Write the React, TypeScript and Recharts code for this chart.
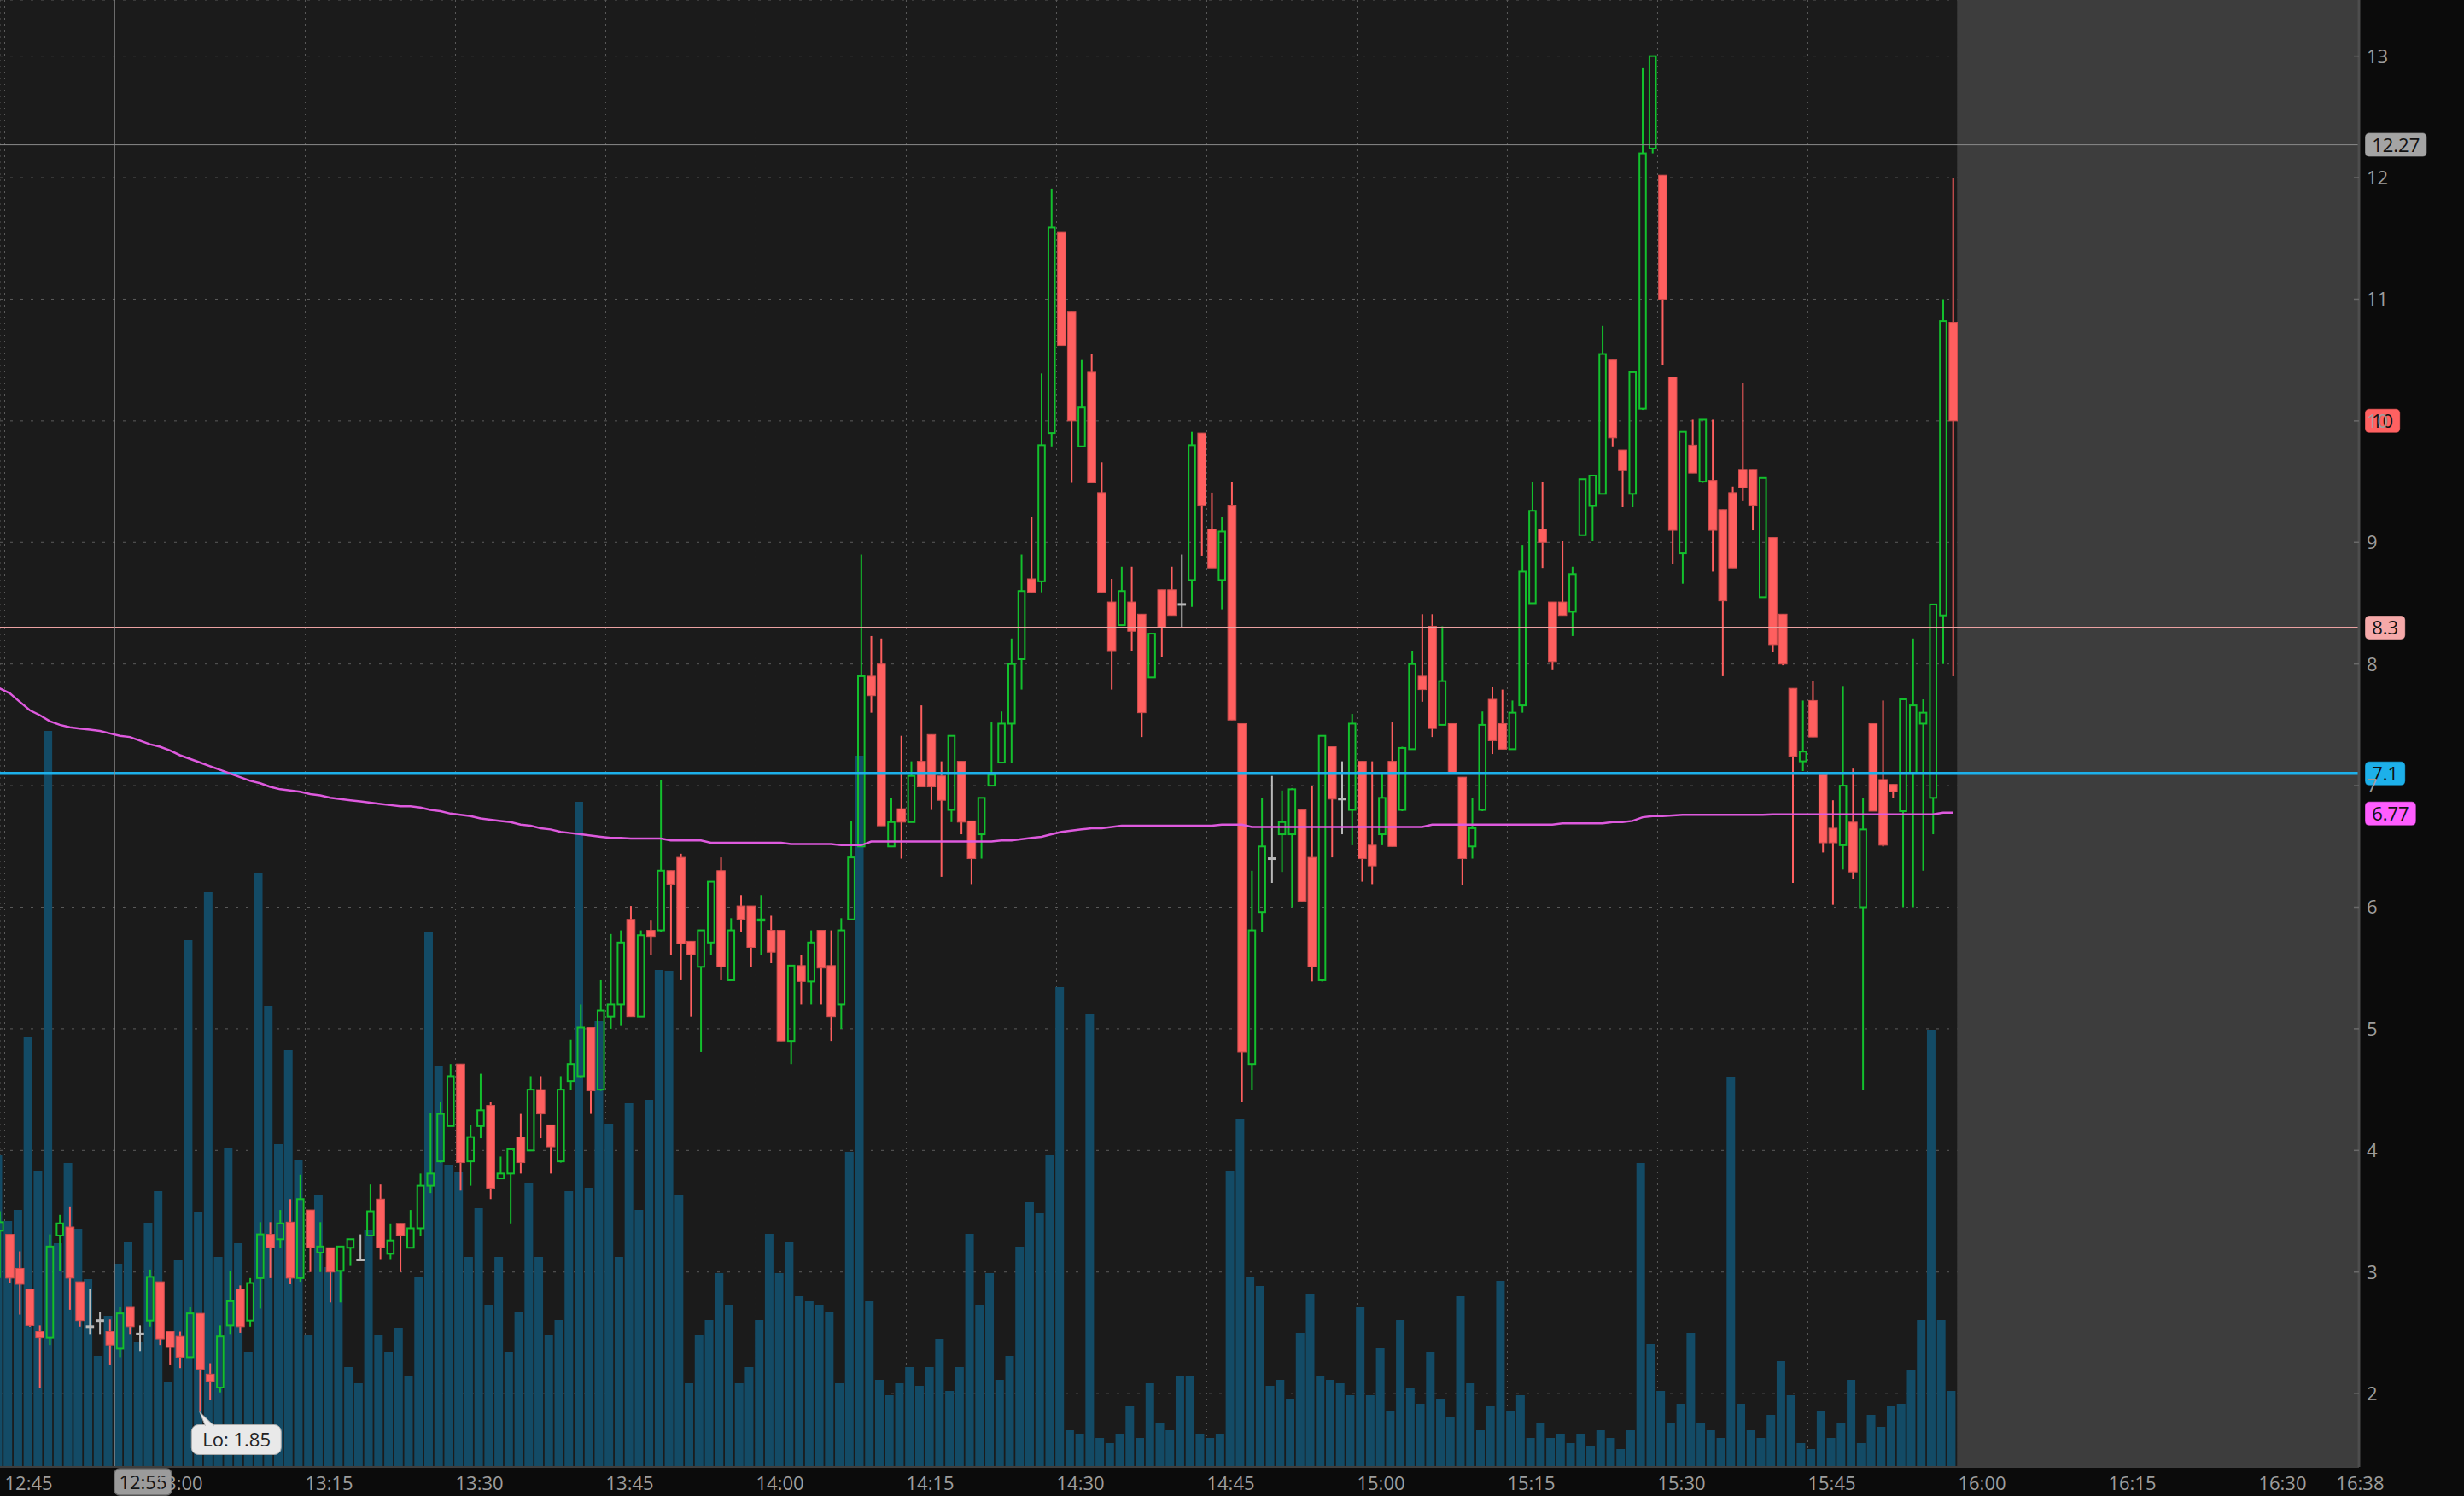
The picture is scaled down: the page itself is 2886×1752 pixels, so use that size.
import React from 'react';
import {
  ComposedChart,
  Bar,
  Line,
  XAxis,
  YAxis,
  CartesianGrid,
  ReferenceLine,
  ReferenceArea,
  ReferenceDot,
} from 'recharts';

const W = 2886;
const H = 1752;
const PLOT_W = 2763;
const PLOT_H = 1718;
const FONT = '"Open Sans", "DejaVu Sans", sans-serif';

// one-minute bars, first one is 12:44
const OPEN = [
  3.34, 3.31, 3.03, 2.86, 2.51, 2.46, 3.3, 3.37, 2.92, 2.55,
  2.6, 2.51, 2.37, 2.71, 2.49, 2.6, 2.92, 2.51, 2.47, 2.3,
  2.66, 2.16, 2.05, 2.56, 2.86, 2.6, 2.95, 3.31, 3.27, 3.41,
  2.95, 3.51, 3.16, 3.2, 3.01, 3.2, 3.1, 3.3, 3.6, 3.15,
  3.4, 3.2, 3.36, 3.71, 3.91, 4.2, 4.71, 3.91, 4.2, 4.37,
  3.77, 3.81, 4.11, 4.0, 4.5, 4.21, 3.91, 4.57, 4.61, 5.01,
  4.5, 5.1, 5.2, 5.9, 5.1, 5.81, 5.81, 6.3, 6.41, 5.72,
  5.51, 5.71, 6.3, 5.4, 6.01, 6.01, 5.89, 5.81, 5.81, 4.9,
  5.52, 5.39, 5.81, 5.52, 5.2, 5.9, 6.5, 7.9, 8.0, 6.5,
  6.81, 6.7, 7.2, 7.42, 7.08, 6.8, 7.2, 6.71, 6.6, 7.0,
  7.19, 7.51, 8.04, 8.7, 8.68, 9.9, 11.55, 10.9, 9.79, 10.4,
  9.41, 8.51, 8.32, 8.51, 8.41, 7.89, 8.61, 8.61, 8.49, 8.69,
  9.9, 9.11, 8.69, 9.3, 7.51, 4.71, 5.96, 6.4, 6.6, 6.6,
  6.8, 6.41, 5.4, 7.32, 6.89, 6.8, 7.2, 6.51, 6.6, 7.2,
  6.8, 7.3, 7.9, 8.31, 7.5, 7.51, 7.07, 6.5, 6.8, 7.71,
  7.51, 7.3, 7.66, 8.5, 9.11, 8.51, 8.51, 8.43, 9.06, 9.3,
  9.4, 10.5, 9.76, 9.4, 10.1, 12.24, 12.02, 10.36, 8.91, 9.8,
  9.5, 9.51, 9.27, 9.41, 9.6, 9.6, 8.55, 9.04, 8.41, 7.8,
  7.2, 7.7, 7.09, 6.65, 6.51, 6.7, 6.0, 7.51, 7.05, 7.01,
  6.79, 7.1, 7.51, 6.9, 8.4, 10.81,
];

const HIGH = [
  3.5, 3.31, 3.17, 2.86, 2.56, 3.31, 3.47, 3.54, 2.92, 2.86,
  2.67, 2.61, 2.71, 2.71, 2.56, 3.02, 2.92, 2.51, 2.51, 2.71,
  2.66, 2.25, 2.56, 3.01, 2.89, 2.95, 3.41, 3.41, 3.51, 3.6,
  3.8, 3.51, 3.41, 3.2, 3.21, 3.27, 3.31, 3.72, 3.72, 3.4,
  3.4, 3.51, 3.81, 4.31, 4.4, 4.71, 4.71, 4.21, 4.63, 4.4,
  3.95, 4.01, 4.3, 4.61, 4.61, 4.21, 4.61, 4.91, 5.2, 5.01,
  5.4, 5.78, 5.81, 6.01, 5.81, 5.89, 7.05, 6.3, 6.44, 5.72,
  5.81, 6.21, 6.41, 5.91, 6.1, 6.01, 6.1, 5.93, 5.81, 5.52,
  5.61, 5.81, 5.81, 5.81, 5.91, 6.71, 8.9, 8.23, 8.21, 6.9,
  7.41, 7.2, 7.66, 7.42, 7.2, 7.41, 7.2, 6.71, 6.9, 7.52,
  7.61, 8.21, 8.9, 9.21, 10.39, 11.91, 11.55, 10.9, 10.5, 10.55,
  9.66, 8.7, 8.8, 8.8, 8.41, 8.25, 8.61, 8.8, 8.9, 9.91,
  9.9, 9.41, 9.21, 9.5, 7.51, 6.3, 6.9, 7.08, 6.96, 6.98,
  6.8, 7.0, 7.41, 7.32, 7.2, 7.59, 7.2, 7.2, 7.1, 7.52,
  7.32, 8.11, 8.41, 8.41, 8.31, 7.51, 7.07, 6.9, 7.61, 7.81,
  7.79, 7.7, 8.98, 9.5, 9.5, 8.51, 9.01, 8.8, 9.52, 9.55,
  10.78, 10.5, 9.76, 10.4, 12.9, 13.0, 12.02, 10.36, 9.91, 10.01,
  10.01, 10.01, 9.27, 9.46, 10.31, 9.6, 9.53, 9.04, 8.41, 7.8,
  7.7, 7.86, 7.09, 6.88, 7.82, 7.14, 6.9, 7.51, 7.7, 7.01,
  7.71, 8.21, 7.71, 8.49, 11.0, 12.0,
];

const LOW = [
  2.95, 2.91, 2.65, 2.55, 2.05, 2.4, 3.01, 2.69, 2.55, 2.49,
  2.49, 2.24, 2.3, 2.49, 2.35, 2.55, 2.4, 2.24, 2.21, 2.3,
  1.85, 1.95, 2.01, 2.49, 2.5, 2.55, 2.7, 2.95, 3.2, 2.9,
  2.92, 3.0, 3.0, 2.75, 2.75, 3.05, 3.1, 3.3, 3.1, 3.1,
  3.0, 3.2, 3.3, 3.65, 3.9, 4.2, 3.67, 3.71, 4.1, 3.6,
  3.77, 3.4, 3.81, 4.0, 4.1, 3.81, 3.9, 4.5, 4.6, 4.3,
  4.49, 5.0, 5.03, 5.1, 5.1, 5.61, 5.8, 5.61, 5.4, 5.1,
  4.81, 5.61, 5.4, 5.4, 5.8, 5.51, 5.61, 5.54, 4.9, 4.71,
  5.2, 5.2, 5.2, 4.9, 5.0, 5.9, 6.5, 7.6, 6.67, 6.5,
  6.4, 6.7, 6.99, 6.8, 6.25, 6.7, 6.6, 6.19, 6.4, 7.0,
  7.19, 7.19, 7.79, 8.59, 8.59, 9.79, 10.62, 9.49, 9.79, 9.49,
  8.59, 7.79, 8.32, 8.11, 7.4, 7.89, 8.06, 8.4, 8.3, 8.47,
  8.89, 8.79, 8.45, 7.54, 4.4, 4.5, 5.8, 6.2, 6.29, 6.0,
  6.05, 5.39, 5.39, 6.41, 6.6, 6.51, 6.21, 6.19, 6.51, 6.5,
  6.79, 7.3, 7.69, 7.4, 7.5, 7.1, 6.18, 6.4, 6.79, 7.26,
  7.3, 7.3, 7.6, 8.5, 8.79, 7.95, 8.4, 8.23, 9.06, 9.01,
  9.4, 9.79, 9.29, 9.29, 10.09, 12.2, 10.46, 8.82, 8.66, 9.57,
  9.49, 8.76, 7.9, 8.79, 9.34, 9.1, 8.55, 8.1, 7.99, 6.2,
  7.12, 7.4, 6.45, 6.02, 6.31, 6.23, 4.5, 6.79, 6.5, 6.9,
  6.0, 6.0, 6.3, 6.6, 8.0, 7.9,
];

const CLOSE = [
  3.41, 2.95, 2.9, 2.56, 2.46, 3.21, 3.4, 2.95, 2.6, 2.55,
  2.6, 2.4, 2.66, 2.55, 2.49, 2.96, 2.45, 2.38, 2.3, 2.66,
  2.2, 2.1, 2.47, 2.76, 2.55, 2.91, 3.31, 3.2, 3.4, 2.95,
  3.6, 3.2, 3.21, 3.0, 3.21, 3.27, 3.1, 3.5, 3.2, 3.26,
  3.3, 3.36, 3.71, 3.81, 4.3, 4.61, 3.9, 4.11, 4.33, 3.69,
  3.81, 4.01, 3.9, 4.5, 4.3, 4.03, 4.5, 4.71, 5.01, 4.49,
  5.15, 5.2, 5.71, 5.1, 5.77, 5.76, 6.3, 6.19, 5.7, 5.61,
  5.81, 6.21, 5.51, 5.81, 5.9, 5.67, 5.9, 5.63, 4.9, 5.52,
  5.39, 5.71, 5.5, 5.1, 5.81, 6.41, 7.9, 7.74, 6.67, 6.7,
  6.7, 7.08, 6.99, 6.99, 6.88, 7.41, 6.7, 6.4, 6.9, 7.09,
  7.51, 8.0, 8.6, 8.59, 9.8, 11.59, 10.62, 10.0, 10.11, 9.49,
  8.59, 8.11, 8.6, 8.27, 7.6, 8.25, 8.3, 8.4, 8.49, 9.8,
  9.3, 8.79, 9.09, 7.54, 4.81, 5.81, 6.5, 6.4, 6.7, 6.97,
  6.05, 5.51, 7.41, 6.89, 6.89, 7.51, 6.4, 6.34, 6.9, 6.5,
  7.31, 8.0, 7.79, 7.47, 7.86, 7.1, 6.4, 6.65, 7.5, 7.37,
  7.3, 7.6, 8.76, 9.26, 9.0, 8.02, 8.4, 8.74, 9.52, 9.55,
  10.55, 9.86, 9.59, 10.4, 12.2, 13.0, 11.0, 9.1, 9.91, 9.57,
  10.01, 9.1, 8.52, 8.79, 9.45, 9.3, 9.53, 8.16, 8.0, 7.24,
  7.28, 7.4, 6.53, 6.53, 7.0, 6.29, 6.64, 6.79, 6.51, 6.95,
  7.71, 7.66, 7.6, 8.49, 10.82, 10.0,
];

// volume, thousands of shares
const VOLUME = [
  36.5, 28.8, 30.1, 50.3, 34.7, 86.2, 26.2, 35.6, 27.9, 22.0,
  13.0, 17.7, 23.8, 26.4, 14.6, 28.6, 32.3, 10.0, 24.2, 61.7,
  29.9, 67.3, 24.6, 37.3, 26.2, 13.5, 69.6, 54.0, 37.8, 48.8,
  36.0, 15.4, 31.9, 23.4, 22.9, 11.7, 9.8, 27.7, 15.4, 13.5,
  16.3, 10.7, 22.3, 62.6, 47.0, 35.4, 34.5, 24.6, 30.3, 19.0,
  24.6, 13.5, 18.1, 33.2, 24.6, 15.4, 17.2, 32.3, 77.9, 32.7,
  52.2, 40.2, 24.6, 42.6, 30.1, 43.0, 58.2, 58.1, 31.9, 9.8,
  15.4, 17.2, 22.7, 19.0, 9.8, 11.7, 17.2, 27.3, 22.7, 26.4,
  20.0, 19.4, 19.0, 18.1, 9.8, 36.9, 83.3, 19.4, 10.2, 8.4,
  9.8, 11.7, 9.5, 11.7, 15.0, 8.9, 11.7, 27.3, 19.0, 22.7,
  10.2, 13.0, 25.8, 31.0, 29.7, 36.5, 56.2, 4.3, 3.9, 53.1,
  3.4, 2.8, 3.9, 7.1, 3.4, 9.8, 5.2, 4.3, 10.7, 10.7,
  3.9, 3.4, 3.9, 34.7, 40.7, 22.2, 21.2, 9.5, 10.2, 8.0,
  15.7, 20.3, 10.7, 10.2, 9.8, 8.4, 18.7, 8.4, 13.9, 6.5,
  17.2, 9.3, 7.4, 13.5, 8.0, 5.8, 20.0, 9.8, 4.3, 7.1,
  21.8, 6.5, 8.4, 3.4, 5.2, 3.4, 3.9, 2.8, 3.9, 2.5,
  4.3, 3.4, 2.1, 4.3, 35.6, 14.4, 8.9, 5.2, 7.4, 15.7,
  5.2, 4.3, 3.4, 45.7, 7.4, 4.3, 3.4, 6.1, 12.4, 8.4,
  2.8, 2.1, 6.5, 3.4, 5.2, 10.2, 2.8, 6.1, 4.7, 7.1,
  7.4, 11.3, 17.2, 51.2, 17.2, 8.9,
];

const VWAP = [
  7.8, 7.76, 7.69, 7.62, 7.58, 7.53, 7.5, 7.48, 7.47, 7.46,
  7.45, 7.43, 7.41, 7.4, 7.37, 7.34, 7.32, 7.29, 7.25, 7.22,
  7.19, 7.16, 7.13, 7.1, 7.07, 7.04, 7.02, 6.99, 6.97, 6.96,
  6.95, 6.93, 6.92, 6.9, 6.89, 6.88, 6.87, 6.86, 6.85, 6.84,
  6.83, 6.83, 6.82, 6.8, 6.79, 6.77, 6.76, 6.75, 6.73, 6.72,
  6.71, 6.7, 6.68, 6.67, 6.65, 6.64, 6.62, 6.61, 6.6, 6.59,
  6.58, 6.57, 6.57, 6.565, 6.565, 6.565, 6.565, 6.55, 6.55, 6.55,
  6.55, 6.53, 6.53, 6.53, 6.53, 6.53, 6.53, 6.53, 6.53, 6.52,
  6.52, 6.52, 6.52, 6.52, 6.51, 6.51, 6.51, 6.54, 6.54, 6.54,
  6.54, 6.54, 6.54, 6.54, 6.54, 6.54, 6.54, 6.54, 6.54, 6.54,
  6.55, 6.55, 6.56, 6.57, 6.58, 6.6, 6.62, 6.63, 6.64, 6.65,
  6.65, 6.66, 6.67, 6.67, 6.67, 6.67, 6.67, 6.67, 6.67, 6.67,
  6.67, 6.67, 6.68, 6.68, 6.68, 6.66, 6.66, 6.66, 6.66, 6.66,
  6.66, 6.66, 6.66, 6.66, 6.66, 6.66, 6.66, 6.66, 6.66, 6.66,
  6.66, 6.66, 6.66, 6.68, 6.68, 6.68, 6.68, 6.68, 6.68, 6.68,
  6.68, 6.68, 6.68, 6.68, 6.68, 6.68, 6.69, 6.69, 6.69, 6.69,
  6.69, 6.7, 6.7, 6.71, 6.74, 6.75, 6.75, 6.755, 6.76, 6.76,
  6.76, 6.76, 6.76, 6.76, 6.76, 6.76, 6.76, 6.763, 6.763, 6.763,
  6.763, 6.763, 6.763, 6.763, 6.763, 6.763, 6.763, 6.763, 6.763, 6.763,
  6.763, 6.763, 6.763, 6.763, 6.778, 6.778,
];

// minutes after 12:45
const X_TICKS = [0, 15, 30, 45, 60, 75, 90, 105, 120, 135, 150, 165, 180, 195, 210, 225, 232.75];
const PRICE_TICKS = [2, 3, 4, 5, 6, 7, 8, 9, 10, 11, 12, 13];
const X_DOMAIN: [number, number] = [-0.469, 235.02];
const PRICE_DOMAIN: [number, number] = [1.397, 13.461];
const VOL_DOMAIN: [number, number] = [0, 171.8];
const SESSION_END = 194.9;
const CURSOR_T = 10.95;
const CURSOR_LABEL = '12:55';
const CURSOR_PRICE = 12.27;
const LOW_T = 19.5;
const LOW_PRICE = 1.85;
const LAST_PRICE = 10;
const LEVEL_HIGH = 8.3;
const LEVEL_LOW = 7.1;
const VWAP_LAST = 6.77;

const data = OPEN.map((o, i) => ({
  t: i - 0.5,
  o,
  h: HIGH[i],
  l: LOW[i],
  c: CLOSE[i],
  range: [LOW[i], HIGH[i]],
  vol: VOLUME[i],
  vwap: VWAP[i],
}));

const UP = '#13c02d';
const DOWN = '#ff5f5f';
const FLAT = '#b9b9b9';
const AXIS_TEXT = '#9d9d9d';

const fmtTime = (t: number) => {
  const m = Math.round(12 * 60 + 45 + t);
  return `${Math.floor(m / 60)}:${String(m % 60).padStart(2, '0')}`;
};

const textWidth = (s: string) =>
  s.split('').reduce((w, ch) => w + (ch === '.' || ch === ':' ? 6 : 12.6), 0);

const Candle = (props: any) => {
  const { x, y, width, height, payload } = props;
  if (!payload || x == null) return null;
  const { o, h, l, c } = payload;
  const top = Math.min(y, y + height);
  const bot = Math.max(y, y + height);
  const py = (v: number) => top + ((h - v) / (h - l || 1)) * (bot - top);
  const cx = x + width / 2;
  const bw = 9.6;

  if (o === c) {
    return (
      <g>
        <line x1={cx} x2={cx} y1={py(h)} y2={py(l)} stroke={FLAT} strokeWidth={2} />
        <line x1={cx - bw / 2} x2={cx + bw / 2} y1={py(o)} y2={py(o)} stroke={FLAT} strokeWidth={3} />
      </g>
    );
  }
  if (c > o) {
    const yt = py(c);
    const yb = py(o);
    return (
      <g>
        <line x1={cx} x2={cx} y1={py(h)} y2={yt} stroke={UP} strokeWidth={2} />
        <line x1={cx} x2={cx} y1={yb} y2={py(l)} stroke={UP} strokeWidth={2} />
        <rect x={cx - bw / 2 + 1} y={yt} width={bw - 2} height={Math.max(yb - yt, 1)} fill="none" stroke={UP} strokeWidth={2} />
      </g>
    );
  }
  const yt = py(o);
  const yb = py(c);
  return (
    <g>
      <line x1={cx} x2={cx} y1={py(h)} y2={py(l)} stroke={DOWN} strokeWidth={2} />
      <rect x={cx - bw / 2} y={yt} width={bw} height={Math.max(yb - yt, 2)} fill={DOWN} stroke="#d24f4f" strokeWidth={1} />
    </g>
  );
};

const VolBar = (props: any) => {
  const { x, y, width, height } = props;
  if (x == null || !height) return null;
  const cx = x + width / 2;
  return <rect x={cx - 7.3} y={y} width={10} height={height} fill="#134b66" />;
};

const PriceTag = (props: any) => {
  const { viewBox, text, bg } = props;
  if (!viewBox) return null;
  const w = textWidth(text) + 16;
  const x = viewBox.x + viewBox.width + 7;
  const y = viewBox.y;
  return (
    <g>
      <rect x={x} y={y - 14} width={w} height={28} rx={5} fill={bg} stroke="rgba(0,0,0,0.35)" strokeWidth={1} />
      <text x={x + w / 2} y={y + 8} textAnchor="middle" fontSize={22} fontFamily={FONT} fill="#111">
        {text}
      </text>
    </g>
  );
};

const TimeTag = (props: any) => {
  const { viewBox, text } = props;
  if (!viewBox) return null;
  const x = viewBox.x;
  const y = viewBox.y + viewBox.height + 2;
  return (
    <g>
      <rect x={x} y={y} width={67} height={31} rx={6} fill="#9b9b9b" stroke="#6e6e6e" strokeWidth={1.5} />
      <text x={x + 33.5} y={y + 24} textAnchor="middle" fontSize={22} fontFamily={FONT} fill="#151515">
        {text}
      </text>
    </g>
  );
};

const LowTag = (props: any) => {
  const { cx, cy } = props;
  if (cx == null) return null;
  const bx = cx - 10;
  const by = cy + 15;
  return (
    <g>
      <rect x={bx} y={by} width={105} height={35} rx={8} fill="#e9e9e9" stroke="#a9a9a9" strokeWidth={1} />
      <path d={`M${cx - 0.5},${cy} L${cx + 6},${by + 1} L${cx + 16},${by + 1} Z`} fill="#e9e9e9" stroke="#a9a9a9" strokeWidth={1} />
      <line x1={cx + 6.5} x2={cx + 15.5} y1={by + 1} y2={by + 1} stroke="#e9e9e9" strokeWidth={2} />
      <text x={bx + 13} y={by + 26} fontSize={22} fontFamily={FONT} fill="#222">
        Lo: {LOW_PRICE}
      </text>
    </g>
  );
};

const TimeTick = (props: any) => {
  const { x, y, payload } = props;
  return (
    <text x={x} y={y + 27} textAnchor="start" fontSize={22} fontFamily={FONT} fill={AXIS_TEXT}>
      {fmtTime(payload.value)}
    </text>
  );
};

const PriceTick = (props: any) => {
  const { x, y, payload } = props;
  return (
    <g>
      <line x1={x - 15} x2={x - 9} y1={y} y2={y} stroke="#6a6a6a" strokeWidth={1.5} />
      <text x={x} y={y} dy={8} textAnchor="start" fontSize={22} fontFamily={FONT} fill={AXIS_TEXT}>
        {payload.value}
      </text>
    </g>
  );
};

export default function App() {
  return (
    <div style={{ position: 'absolute', left: 0, top: 0, width: W, height: H, background: '#0b0b0b', overflow: 'hidden' }}>
      <div style={{ position: 'absolute', left: 0, top: 0, width: PLOT_W, height: PLOT_H, background: '#1b1b1b' }} />
      <div style={{ position: 'absolute', left: 0, top: 0 }}>
        <ComposedChart width={W} height={H} data={data} margin={{ top: 0, right: 0, bottom: 0, left: 0 }}>
          <XAxis
            xAxisId="t"
            type="number"
            dataKey="t"
            domain={X_DOMAIN}
            allowDataOverflow
            ticks={X_TICKS}
            interval={0}
            height={34}
            tickSize={0}
            tickMargin={0}
            tickLine={false}
            axisLine={{ stroke: '#3e3e3e', strokeWidth: 2 }}
            tick={<TimeTick />}
          />
          <XAxis xAxisId="v" type="number" dataKey="t" domain={X_DOMAIN} allowDataOverflow hide />
          <YAxis
            yAxisId="p"
            orientation="right"
            type="number"
            domain={PRICE_DOMAIN}
            allowDataOverflow
            ticks={PRICE_TICKS}
            interval={0}
            width={W - PLOT_W}
            tickSize={0}
            tickMargin={9}
            tickLine={false}
            axisLine={{ stroke: '#4d4d4d', strokeWidth: 3 }}
            tick={<PriceTick />}
          />
          <YAxis yAxisId="v" type="number" domain={VOL_DOMAIN} allowDataOverflow hide />

          <ReferenceArea
            xAxisId="t"
            yAxisId="p"
            x1={SESSION_END}
            x2={X_DOMAIN[1]}
            y1={PRICE_DOMAIN[0]}
            y2={PRICE_DOMAIN[1]}
            fill="#3d3d3d"
            fillOpacity={1}
            stroke="none"
          />
          <CartesianGrid xAxisId="t" yAxisId="p" vertical={false} stroke="#5b5b5b" strokeDasharray="3 9" />
          <CartesianGrid xAxisId="t" yAxisId="p" horizontal={false} stroke="#5b5b5b" strokeDasharray="2 5" />

          <Bar xAxisId="v" yAxisId="v" dataKey="vol" barSize={10} shape={<VolBar />} isAnimationActive={false} />

          <ReferenceLine xAxisId="t" yAxisId="p" y={LEVEL_HIGH} stroke="#eba2a2" strokeWidth={2}
            label={<PriceTag text={String(LEVEL_HIGH)} bg="#f6a9a9" />} />
          <ReferenceLine xAxisId="t" yAxisId="p" y={LEVEL_LOW} stroke="#1db0ea" strokeWidth={3.5}
            label={<PriceTag text={String(LEVEL_LOW)} bg="#1db0ea" />} />
          <ReferenceLine xAxisId="t" yAxisId="p" y={CURSOR_PRICE} stroke="#8a8a8a" strokeWidth={1}
            label={<PriceTag text={String(CURSOR_PRICE)} bg="#a4a4a4" />} />
          <ReferenceLine xAxisId="t" yAxisId="p" x={CURSOR_T} stroke="#8a8a8a" strokeWidth={1.5}
            label={<TimeTag text={CURSOR_LABEL} />} />

          <Line
            xAxisId="t"
            yAxisId="p"
            type="linear"
            dataKey="vwap"
            stroke="#de5ade"
            strokeWidth={2.5}
            dot={false}
            activeDot={false}
            isAnimationActive={false}
          />

          <Bar xAxisId="t" yAxisId="p" dataKey="range" barSize={10} shape={<Candle />} isAnimationActive={false} />

          <ReferenceLine xAxisId="t" yAxisId="p" y={LAST_PRICE} stroke="none"
            label={<PriceTag text={String(LAST_PRICE)} bg="#ff6161" />} />
          <ReferenceLine xAxisId="t" yAxisId="p" y={VWAP_LAST} stroke="none"
            label={<PriceTag text={String(VWAP_LAST)} bg="#ff5dff" />} />
          <ReferenceDot xAxisId="t" yAxisId="p" x={LOW_T} y={LOW_PRICE} r={0} shape={<LowTag />} />
        </ComposedChart>
      </div>
    </div>
  );
}
